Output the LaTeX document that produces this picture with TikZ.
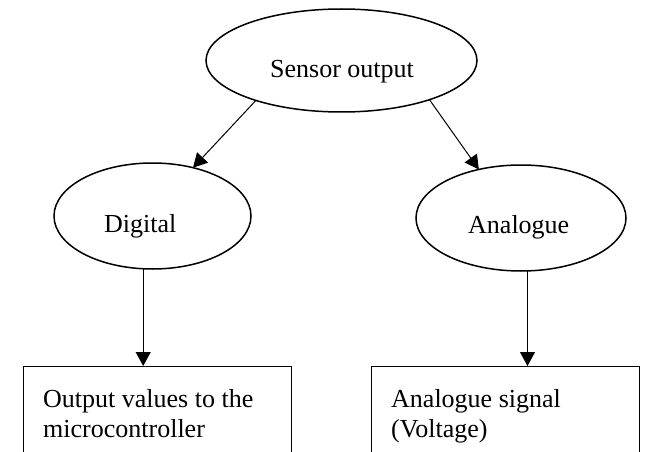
\documentclass[tikz,border=0pt]{standalone}
\usepackage{fontspec}
\setmainfont{Liberation Serif}
\usetikzlibrary{arrows.meta,shapes.geometric}
\begin{document}
\begin{tikzpicture}[x=1pt,y=-1pt,
  oval/.style={draw, ellipse, line width=1.5pt, inner sep=0pt, outer sep=0pt},
  box/.style={draw, rectangle, line width=1pt, anchor=north west, minimum width=268pt, minimum height=130pt, inner sep=0pt, outer sep=0pt},
  lbl/.style={font=\fontsize{26}{30}\selectfont, inner sep=0pt, anchor=base west},
  conn/.style={line width=1pt, -{Triangle[length=14pt,width=15pt]}}]
\clip (0,0) rectangle (646,452);
\fill[white] (0,0) rectangle (646,452);
\node[oval, minimum width=271pt, minimum height=103pt] (sensor) at (341.5,60.5) {};
\node[lbl] (sensortxt) at (270,78) {Sensor output};
\node[oval, minimum width=197pt, minimum height=106pt] (digital) at (152.5,216) {};
\node[lbl] (digitaltxt) at (104,232) {Digital};
\node[oval, minimum width=210pt, minimum height=106pt] (analogue) at (521,218) {};
\node[lbl] (analoguetxt) at (468,233) {Analogue};
\node[box] (outbox) at (23,366) {};
\node[lbl] (outtxt1) at (43,407) {Output values to the};
\node[lbl] (outtxt2) at (43,437) {microcontroller};
\node[box] (sigbox) at (371,366) {};
\node[lbl] (sigtxt1) at (391,407) {Analogue signal};
\node[lbl] (sigtxt2) at (391,437) {(Voltage)};
\draw[conn] (sensor.205) -- (digital.50);
\draw[conn] (sensor.336) -- (analogue.131);
\draw[conn] (digital.260) -- (digital.260 |- outbox.north);
\draw[conn] (analogue.277) -- (analogue.277 |- sigbox.north);
\end{tikzpicture}
\end{document}
